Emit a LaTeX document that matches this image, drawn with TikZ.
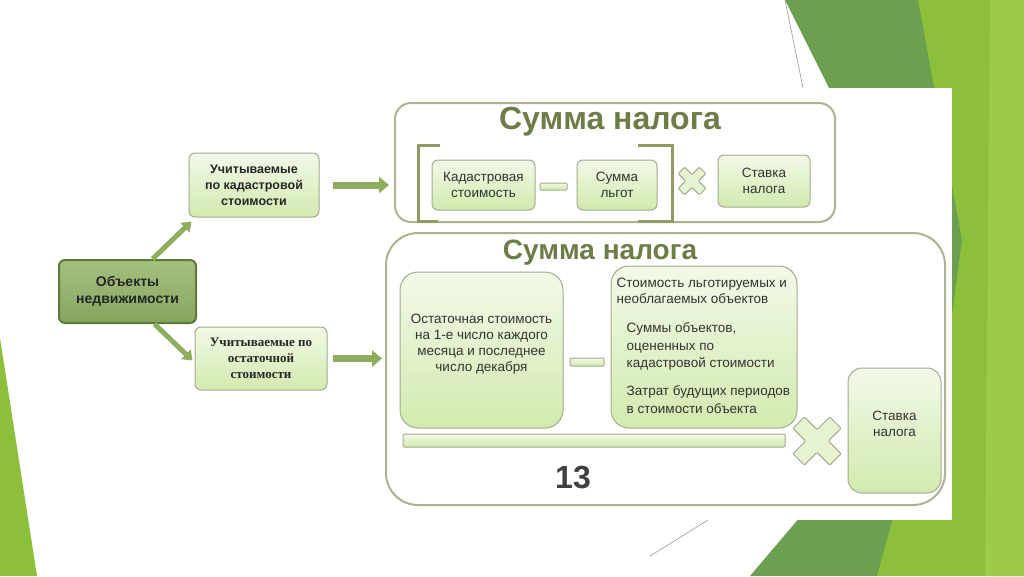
\documentclass[tikz,border=0pt]{standalone}
\usepackage{fontspec}
\setmainfont{Liberation Sans}
\newfontfamily\serifbold{Liberation Serif}
\usetikzlibrary{arrows.meta}

\definecolor{slidegreen}{HTML}{8DC03A}
\definecolor{slidebright}{HTML}{9CCB48}
\definecolor{slidedark}{HTML}{6C9F4F}
\definecolor{slideline}{HTML}{9A9A9A}
\definecolor{boxedge}{HTML}{A2AC8E}
\definecolor{boxtop}{HTML}{F2F9E8}
\definecolor{boxbottom}{HTML}{D2EAAE}
\definecolor{frameedge}{HTML}{ABB491}
\definecolor{headgreen}{HTML}{6D7D46}
\definecolor{objfill}{HTML}{96B669}
\definecolor{objedge}{HTML}{5C7A38}
\definecolor{arrowgreen}{HTML}{8DAE5C}
\definecolor{bracketgreen}{HTML}{8E9C62}
\definecolor{textgray}{HTML}{333333}

\tikzset{
	box/.style = {draw = boxedge, line width = 1pt, rounded corners = 6pt,
		top color = boxtop, bottom color = boxbottom, align = center,
		text = textgray, inner sep = 2pt, font = \fontsize{13.5}{16}\selectfont},
	bigbox/.style = {box, rounded corners = 18pt},
	frame/.style = {draw = frameedge, line width = 2pt, fill = white},
	heading/.style = {text = headgreen, font = \fontsize{#1}{#1}\selectfont\bfseries},
	fatarrow/.style = {draw = arrowgreen, line width = 7pt,
		-{Triangle[width = 16pt, length = 10pt]}},
	slimarrow/.style = {draw = arrowgreen, line width = 5pt,
		-{Triangle[width = 13pt, length = 9pt]}},
	crossmark/.style = {draw = boxedge, line width = 1pt, fill = boxtop!60!boxbottom,
		rounded corners = 1pt},
	bracket/.style = {draw = bracketgreen, line width = 3pt}
}

\begin{document}
\begin{tikzpicture}[x = 1pt, y = -1pt]
		\useasboundingbox (0,0) rectangle (1024,576);
		\def\smallcross{(-4.5,-15) -- (4.5,-15) -- (4.5,-4.5) -- (15,-4.5) -- (15,4.5) -- (4.5,4.5) -- (4.5,15) -- (-4.5,15) -- (-4.5,4.5) -- (-15,4.5) -- (-15,-4.5) -- (-4.5,-4.5) -- cycle};
		\def\bigcross{(-8,-26) -- (8,-26) -- (8,-8) -- (26,-8) -- (26,8) -- (8,8) -- (8,26) -- (-8,26) -- (-8,8) -- (-26,8) -- (-26,-8) -- (-8,-8) -- cycle};
		
		\begin{scope}
			\fill [white] (0,0) rectangle (1024,576);
			\fill [slidegreen] (0,338) -- (37,576) -- (0,576) -- cycle;
			\fill [slidegreen] (918,0) -- (1024,0) -- (1024,576) -- (877,576) -- cycle;
			\fill [slidebright] (990,0) -- (1024,0) -- (1024,576) -- (985,576) -- cycle;
			\fill [slidedark] (785,0) -- (918,0) -- (962,240) -- (950,330) -- cycle;
			\fill [slidedark] (750,576) -- (877,576) -- (930,380) -- (840,470) -- cycle;
			\draw [slideline, line width = 0.6pt] (785,0) -- (803,88);
			\draw [slideline, line width = 0.6pt] (650,556) -- (708,520);
			\fill [white] (40,88) rectangle (952,520);
		\end{scope}
		
		\begin{scope}
			\node [frame, rounded corners = 16pt, minimum width = 440pt, minimum height = 119pt] (topsum) at (615,162.5) {};
			\node [frame, rounded corners = 32pt, minimum width = 559pt, minimum height = 272pt] (botsum) at (665.5,369) {};
			\node [heading = 32] (toptitle) at (610,122) {Сумма налога};
			\node [heading = 28] (bottitle) at (600,253) {Сумма налога};
		\end{scope}
		
		\begin{scope}
			\node [box, draw = objedge, line width = 2pt, top color = objfill!85!white, bottom color = objfill!90!black, text = black!85,
				minimum width = 137pt, minimum height = 63pt,
				font = \fontsize{14}{17}\selectfont\bfseries] (obj) at (127.5,291.5) {Объекты\\недвижимости};
			\node [box, minimum width = 130pt, minimum height = 64pt, text = black!85,
				font = \fontsize{12.5}{16}\selectfont\bfseries] (kadobj) at (254,185) {Учитываемые\\по кадастровой\\стоимости};
			\node [box, minimum width = 132pt, minimum height = 63pt, text = black!85,
				font = \fontsize{13}{16}\serifbold\bfseries] (ostobj) at (261,358.5) {Учитываемые по\\остаточной\\стоимости};
		\end{scope}
		
		\begin{scope}
			\draw [bracket] (440,145) -- (418,145) -- (418,221) -- (438,221);
			\draw [bracket] (638,145) -- (672,145) -- (672,221) -- (638,221);
			\node [box, minimum width = 103pt, minimum height = 50pt] (kadval) at (483.5,185) {Кадастровая\\стоимость};
			\node [box, minimum width = 80pt, minimum height = 50pt] (lgoty) at (617,185) {Сумма\\льгот};
			\node [box, minimum width = 92pt, minimum height = 52pt] (rate1) at (764,181) {Ставка\\налога};
			\node [box, rounded corners = 1pt, minimum width = 27pt, minimum height = 7pt, inner sep = 0pt] (minus1) at (553.5,186.5) {};
			\draw [crossmark, shift = {(692,181)}, rotate = 45] \smallcross;
		\end{scope}
		
		\begin{scope}
			\node [bigbox, minimum width = 163pt, minimum height = 156pt, text depth = 14pt] (ostval) at (481.5,350) {Остаточная стоимость\\на 1-е число каждого\\месяца и последнее\\число декабря};
			\node [bigbox, minimum width = 186pt, minimum height = 162pt] (lgotval) at (704,347) {};
			\node [anchor = north west, align = left, text = textgray, inner sep = 0pt,
				font = \fontsize{13.5}{16.5}\selectfont] (lgotnote) at ([shift = {(6,12)}]lgotval.north west) {Стоимость льготируемых и\\необлагаемых объектов};
			\node [anchor = north west, align = left, text = textgray, inner sep = 0pt,
				font = \fontsize{13.5}{17.5}\selectfont] (lgotsum) at ([shift = {(16,57)}]lgotval.north west) {Суммы объектов,\\оцененных по\\кадастровой стоимости};
			\node [anchor = north west, align = left, text = textgray, inner sep = 0pt,
				font = \fontsize{13.5}{17.5}\selectfont] (lgotcost) at ([shift = {(16,120)}]lgotval.north west) {Затрат будущих периодов\\в стоимости объекта};
			\node [box, rounded corners = 1pt, minimum width = 34pt, minimum height = 8pt, inner sep = 0pt] (minus2) at (587,362) {};
			\node [box, rounded corners = 1pt, minimum width = 382pt, minimum height = 13pt, inner sep = 0pt] (bar) at (594,440.5) {};
			\draw [crossmark, shift = {(817,441)}, rotate = 45] \bigcross;
			\node [bigbox, rounded corners = 14pt, minimum width = 93pt, minimum height = 125pt, text depth = 14pt] (rate2) at (894.5,430.5) {Ставка\\налога};
			\node [text = black!75, font = \fontsize{32}{32}\selectfont\bfseries] (rate) at (573,477) {13};
		\end{scope}
		
		\begin{scope}
			\draw [slimarrow] ([xshift = 25pt]obj.north) -- ([shift = {(3,4)}]kadobj.south west);
			\draw [slimarrow] ([xshift = 27pt]obj.south) -- ([shift = {(-2,2)}]ostobj.west);
			\draw [fatarrow, shorten <= 13pt, shorten >= 5pt] (kadobj.east) -- (kadobj.east -| topsum.west);
			\draw [fatarrow, shorten <= 5pt, shorten >= 3pt] (ostobj.east) -- (ostobj.east -| botsum.west);
		\end{scope}
	\end{tikzpicture}
\end{document}
